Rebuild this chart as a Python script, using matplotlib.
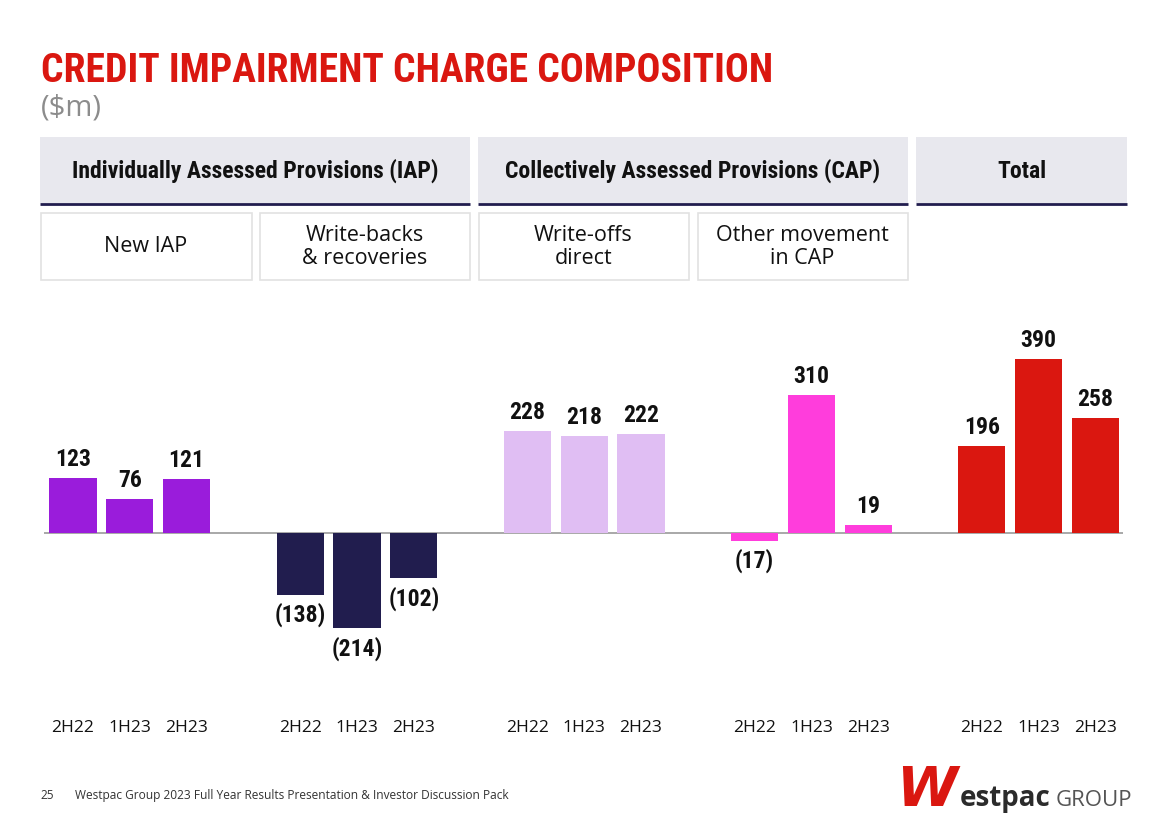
import matplotlib
matplotlib.use("Agg")
import matplotlib.pyplot as plt
from matplotlib.patches import Rectangle
from matplotlib import font_manager as fm

# ---------------- data ----------------
periods = ["2H22", "1H23", "2H23"]
categories = ["New IAP", "Write-backs\n& recoveries", "Write-offs\ndirect",
              "Other movement\nin CAP", "Total"]
new_iap = [123, 76, 121]
write_backs = [-138, -214, -102]
write_offs = [228, 218, 222]
other_cap = [-17, 310, 19]
total = [196, 390, 258]
series = [new_iap, write_backs, write_offs, other_cap, total]
colors = ["#9A1CDB", "#211D4E", "#E0BEF3", "#FF3DDC", "#DA1710"]
group_headers = ["Individually Assessed Provisions (IAP)",
                 "Collectively Assessed Provisions (CAP)", "Total"]


def pick(cands):
    for c in cands:
        try:
            fm.findfont(fm.FontProperties(family=c), fallback_to_default=False)
            return c
        except Exception:
            pass
    return "DejaVu Sans"


COND = pick(["Liberation Sans Narrow", "DejaVu Sans Condensed", "Roboto Condensed", "Liberation Sans"])
BODY = pick(["Open Sans", "Lato", "Noto Sans", "DejaVu Sans"])

W, H = 1168, 825
fig = plt.figure(figsize=(W / 100, H / 100), dpi=100)
bg = fig.add_axes([0, 0, 1, 1])
bg.set_xlim(0, W)
bg.set_ylim(H, 0)
bg.axis("off")

# Title
bg.text(41, 82, "CREDIT IMPAIRMENT CHARGE COMPOSITION", color="#DA1710",
        fontsize=28.5, fontweight="heavy", family=COND, va="baseline", ha="left")
bg.text(41, 115, "($m)", color="#8C8C8C", fontsize=21, family=BODY,
        va="baseline", ha="left")

# Header boxes
hdr = [(40, 470), (478, 908), (916, 1127)]
for (x0, x1), t in zip(hdr, group_headers):
    bg.add_patch(Rectangle((x0, 137), x1 - x0, 66, facecolor="#E8E8EE", edgecolor="none"))
    bg.plot([x0, x1], [204, 204], color="#211D4E", lw=2, solid_capstyle="butt")
    bg.text((x0 + x1) / 2, 171, t, ha="center", va="center", fontsize=17,
            fontweight="heavy", family=COND, color="#111111")

sub = [(40, 252), (259, 470), (478, 689), (697, 908)]
for (x0, x1), t in zip(sub, categories[:4]):
    bg.add_patch(Rectangle((x0 + 0.5, 212.5), x1 - x0 - 1, 67, facecolor="white",
                           edgecolor="#E2E2E2", lw=1.2))
    bg.text((x0 + x1) / 2, 247, t, ha="center", va="center", fontsize=15.5,
            family=BODY, color="#111111", linespacing=1.15)

# Footer
bg.text(40, 799, "25", fontsize=8.5, family=BODY, color="#333333", va="baseline")
bg.text(75, 799, "Westpac Group 2023 Full Year Results Presentation & Investor Discussion Pack",
        fontsize=8.6, family=BODY, color="#333333", va="baseline")
# Logo (text)
bg.text(896, 806, "W", fontsize=40, fontweight="heavy", fontstyle="italic",
        family="DejaVu Sans", color="#DA1710", va="baseline", ha="left")
bg.text(960, 806, "estpac", fontsize=20, fontweight="bold", family=BODY,
        color="#2B2B2B", va="baseline", ha="left")
bg.text(1056, 806, "GROUP", fontsize=16, family=BODY, color="#555555",
        va="baseline", ha="left")

# ---------------- bars ----------------
unit = 56.8
x_first = 73
ax_left, ax_right = 44, 1123
ax_top, ax_bot = 330, 680
base = 533
scale = 0.446
ax = fig.add_axes([ax_left / W, 1 - ax_bot / H, (ax_right - ax_left) / W, (ax_bot - ax_top) / H])
ax.set_xlim(-(x_first - ax_left) / unit, (ax_right - x_first) / unit)
ax.set_ylim(-(ax_bot - base) / scale, (base - ax_top) / scale)
ax.axis("off")
ax.patch.set_alpha(0)
ax.axhline(0, color="#9A9A9A", lw=1.2, zorder=1)

for g, (vals, col) in enumerate(zip(series, colors)):
    xs = [g * 4 + i for i in range(len(vals))]
    ax.bar(xs, vals, width=0.83, color=col, zorder=2)
    for i, (x, v) in enumerate(zip(xs, vals)):
        lab = f"{v}" if v >= 0 else f"({-v})"
        ax.annotate(lab, (x, v), xytext=(0, 5 if v >= 0 else -6), textcoords="offset points",
                    ha="center", va="bottom" if v >= 0 else "top", fontsize=17,
                    fontweight="heavy", family=COND, color="#111111")
        ax.annotate(periods[i], (x, 0), xycoords=("data", "figure fraction"),
                    xytext=(x, 1 - 728 / H), textcoords=("data", "figure fraction"),
                    ha="center", va="center", fontsize=12.5, family=BODY, color="#111111")

fig.savefig("out.png", dpi=100)
